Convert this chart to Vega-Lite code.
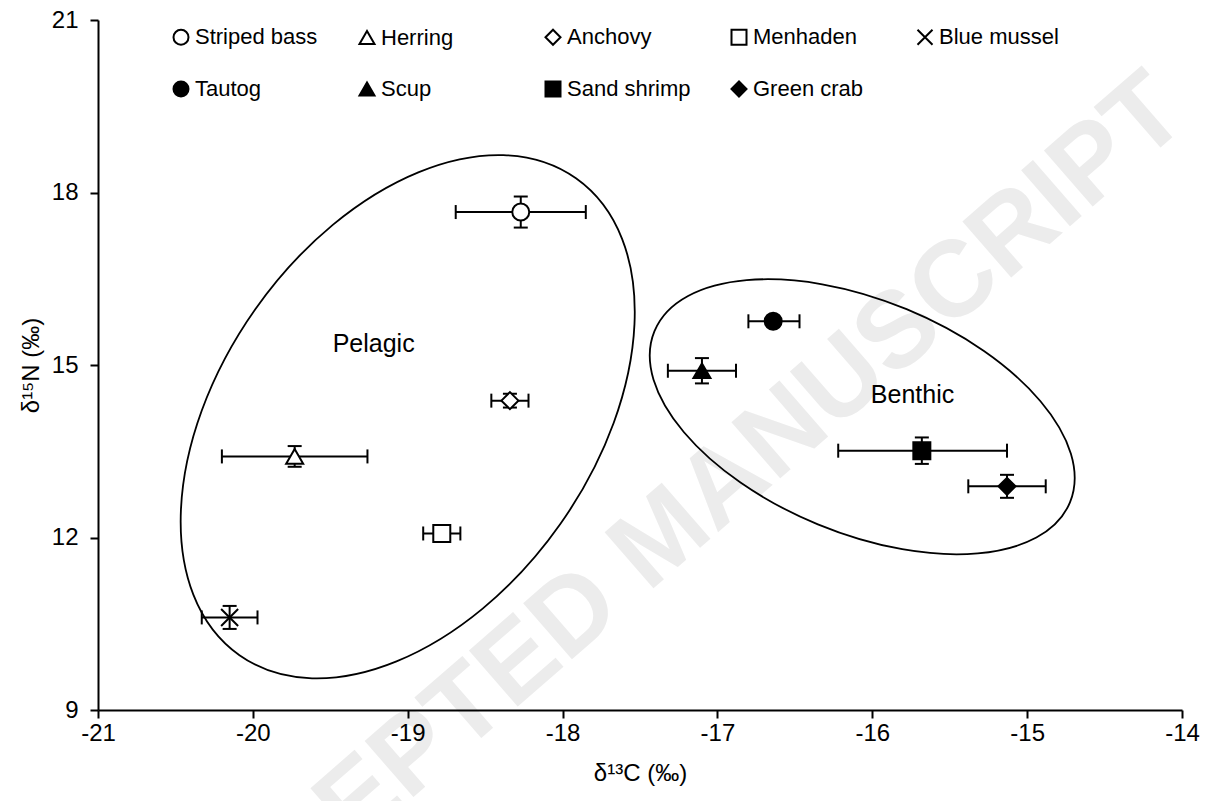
{
  "$schema": "https://vega.github.io/schema/vega-lite/v6.json",
  "width": 1084,
  "height": 690,
  "autosize": {"type": "none"},
  "padding": {"left": 98, "top": 20, "right": 25, "bottom": 91},
  "background": "white",
  "config": {
    "font": "Liberation Sans",
    "view": {"stroke": null},
    "axis": {
      "grid": false,
      "labelFlush": false,
      "labelOverlap": false,
      "domainColor": "black",
      "domainWidth": 2,
      "tickColor": "black",
      "tickWidth": 2,
      "tickSize": 8,
      "labelColor": "black",
      "labelFont": "Liberation Sans",
      "labelFontSize": 24,
      "titleFont": "Liberation Sans",
      "titleFontSize": 24,
      "titleFontWeight": "normal",
      "titleColor": "black"
    },
    "legend": {
      "orient": "none",
      "legendX": 72,
      "legendY": 6,
      "direction": "horizontal",
      "columns": 5,
      "gridAlign": "all",
      "columnPadding": 36,
      "rowPadding": 28,
      "labelFontSize": 22,
      "labelFont": "Liberation Sans",
      "labelColor": "black",
      "symbolSize": 225,
      "symbolStrokeWidth": 2,
      "symbolStrokeColor": "black",
      "symbolOpacity": 1,
      "labelOffset": 3,
      "padding": 0
    }
  },
  "datasets": {
    "species": [
      {"species": "Striped bass", "c13": -18.27, "c13lo": -18.69, "c13hi": -17.85, "n15": 17.66, "n15lo": 17.39, "n15hi": 17.93},
      {"species": "Herring", "c13": -19.73, "c13lo": -20.2, "c13hi": -19.26, "n15": 13.41, "n15lo": 13.23, "n15hi": 13.59},
      {"species": "Anchovy", "c13": -18.34, "c13lo": -18.46, "c13hi": -18.22, "n15": 14.38, "n15lo": 14.26, "n15hi": 14.5},
      {"species": "Menhaden", "c13": -18.78, "c13lo": -18.9, "c13hi": -18.66, "n15": 12.07, "n15lo": 11.99, "n15hi": 12.15},
      {"species": "Blue mussel", "c13": -20.15, "c13lo": -20.33, "c13hi": -19.97, "n15": 10.61, "n15lo": 10.41, "n15hi": 10.81},
      {"species": "Tautog", "c13": -16.64, "c13lo": -16.8, "c13hi": -16.47, "n15": 15.76, "n15lo": 15.68, "n15hi": 15.84},
      {"species": "Scup", "c13": -17.1, "c13lo": -17.32, "c13hi": -16.88, "n15": 14.9, "n15lo": 14.68, "n15hi": 15.12},
      {"species": "Sand shrimp", "c13": -15.68, "c13lo": -16.22, "c13hi": -15.13, "n15": 13.51, "n15lo": 13.28, "n15hi": 13.74},
      {"species": "Green crab", "c13": -15.13, "c13lo": -15.38, "c13hi": -14.88, "n15": 12.89, "n15lo": 12.69, "n15hi": 13.09}
    ],
    "groups": [
      {"group": "Pelagic", "c13": -19.0, "n15": 14.1},
      {"group": "Benthic", "c13": -16.065, "n15": 14.1}
    ],
    "notes": [
      {"label": "Pelagic", "c13": -19.22, "n15": 15.36},
      {"label": "Benthic", "c13": -15.74, "n15": 14.47}
    ],
    "watermark": [
      {"label": "ACCEPTED MANUSCRIPT", "c13": -17.35, "n15": 12.0}
    ]
  },
  "layer": [
    {
      "data": {"name": "watermark"},
      "mark": {"type": "text", "fontSize": 108, "fontWeight": "bold", "angle": -41, "color": "#ececec", "align": "center", "baseline": "middle", "font": "Liberation Sans"},
      "encoding": {
        "x": {"field": "c13", "type": "quantitative", "scale": {"domain": [-21, -14], "nice": false, "zero": false}, "axis": {"zindex": 1, "values": [-21, -20, -19, -18, -17, -16, -15, -14], "labelExpr": "'' + datum.value", "labelPadding": 3, "title": "δ¹³C (‰)", "titlePadding": 16}},
        "y": {"field": "n15", "type": "quantitative", "scale": {"domain": [9, 21], "nice": false, "zero": false}, "axis": {"zindex": 1, "values": [9, 12, 15, 18, 21], "labelPadding": 12, "title": "δ¹⁵N (‰)", "titlePadding": 8}},
        "text": {"field": "label"}
      }
    },
    {
      "data": {"name": "groups"},
      "transform": [{"filter": "datum.group === 'Pelagic'"}],
      "mark": {"type": "point", "shape": "M 1 0 C 1 0.353 0.5523 0.639 0 0.639 C -0.5523 0.639 -1 0.353 -1 0 C -1 -0.353 -0.5523 -0.639 0 -0.639 C 0.5523 -0.639 1 -0.353 1 0 Z", "size": 340823, "angle": -54.8, "filled": false, "stroke": "black", "strokeWidth": 1.8, "opacity": 1},
      "encoding": {
        "x": {"field": "c13", "type": "quantitative", "scale": {"domain": [-21, -14], "nice": false, "zero": false}, "axis": {"zindex": 1, "values": [-21, -20, -19, -18, -17, -16, -15, -14], "labelExpr": "'' + datum.value", "labelPadding": 3, "title": "δ¹³C (‰)", "titlePadding": 16}},
        "y": {"field": "n15", "type": "quantitative", "scale": {"domain": [9, 21], "nice": false, "zero": false}, "axis": {"zindex": 1, "values": [9, 12, 15, 18, 21], "labelPadding": 12, "title": "δ¹⁵N (‰)", "titlePadding": 8}}
      }
    },
    {
      "data": {"name": "groups"},
      "transform": [{"filter": "datum.group === 'Benthic'"}],
      "mark": {"type": "point", "shape": "M 1 0 C 1 0.286 0.5523 0.518 0 0.518 C -0.5523 0.518 -1 0.286 -1 0 C -1 -0.286 -0.5523 -0.518 0 -0.518 C 0.5523 -0.518 1 -0.286 1 0 Z", "size": 201960, "angle": 22.4, "filled": false, "stroke": "black", "strokeWidth": 1.8, "opacity": 1},
      "encoding": {
        "x": {"field": "c13", "type": "quantitative", "scale": {"domain": [-21, -14], "nice": false, "zero": false}, "axis": {"zindex": 1, "values": [-21, -20, -19, -18, -17, -16, -15, -14], "labelExpr": "'' + datum.value", "labelPadding": 3, "title": "δ¹³C (‰)", "titlePadding": 16}},
        "y": {"field": "n15", "type": "quantitative", "scale": {"domain": [9, 21], "nice": false, "zero": false}, "axis": {"zindex": 1, "values": [9, 12, 15, 18, 21], "labelPadding": 12, "title": "δ¹⁵N (‰)", "titlePadding": 8}}
      }
    },
    {
      "data": {"name": "notes"},
      "mark": {"type": "text", "fontSize": 25, "color": "black", "align": "center", "baseline": "middle", "font": "Liberation Sans"},
      "encoding": {
        "x": {"field": "c13", "type": "quantitative", "scale": {"domain": [-21, -14], "nice": false, "zero": false}, "axis": {"zindex": 1, "values": [-21, -20, -19, -18, -17, -16, -15, -14], "labelExpr": "'' + datum.value", "labelPadding": 3, "title": "δ¹³C (‰)", "titlePadding": 16}},
        "y": {"field": "n15", "type": "quantitative", "scale": {"domain": [9, 21], "nice": false, "zero": false}, "axis": {"zindex": 1, "values": [9, 12, 15, 18, 21], "labelPadding": 12, "title": "δ¹⁵N (‰)", "titlePadding": 8}},
        "text": {"field": "label"}
      }
    },
    {
      "data": {"name": "species"},
      "mark": {"type": "rule", "color": "black", "strokeWidth": 2},
      "encoding": {
        "x": {"field": "c13lo", "type": "quantitative", "scale": {"domain": [-21, -14], "nice": false, "zero": false}, "axis": {"zindex": 1, "values": [-21, -20, -19, -18, -17, -16, -15, -14], "labelExpr": "'' + datum.value", "labelPadding": 3, "title": "δ¹³C (‰)", "titlePadding": 16}},
        "x2": {"field": "c13hi"},
        "y": {"field": "n15", "type": "quantitative", "scale": {"domain": [9, 21], "nice": false, "zero": false}, "axis": {"zindex": 1, "values": [9, 12, 15, 18, 21], "labelPadding": 12, "title": "δ¹⁵N (‰)", "titlePadding": 8}}
      }
    },
    {
      "data": {"name": "species"},
      "mark": {"type": "rule", "color": "black", "strokeWidth": 2},
      "encoding": {
        "x": {"field": "c13", "type": "quantitative", "scale": {"domain": [-21, -14], "nice": false, "zero": false}, "axis": {"zindex": 1, "values": [-21, -20, -19, -18, -17, -16, -15, -14], "labelExpr": "'' + datum.value", "labelPadding": 3, "title": "δ¹³C (‰)", "titlePadding": 16}},
        "y": {"field": "n15lo", "type": "quantitative", "scale": {"domain": [9, 21], "nice": false, "zero": false}, "axis": {"zindex": 1, "values": [9, 12, 15, 18, 21], "labelPadding": 12, "title": "δ¹⁵N (‰)", "titlePadding": 8}},
        "y2": {"field": "n15hi"}
      }
    },
    {
      "data": {"name": "species"},
      "mark": {"type": "tick", "orient": "vertical", "size": 14, "thickness": 2, "color": "black", "opacity": 1},
      "encoding": {
        "x": {"field": "c13lo", "type": "quantitative", "scale": {"domain": [-21, -14], "nice": false, "zero": false}, "axis": {"zindex": 1, "values": [-21, -20, -19, -18, -17, -16, -15, -14], "labelExpr": "'' + datum.value", "labelPadding": 3, "title": "δ¹³C (‰)", "titlePadding": 16}},
        "y": {"field": "n15", "type": "quantitative", "scale": {"domain": [9, 21], "nice": false, "zero": false}, "axis": {"zindex": 1, "values": [9, 12, 15, 18, 21], "labelPadding": 12, "title": "δ¹⁵N (‰)", "titlePadding": 8}}
      }
    },
    {
      "data": {"name": "species"},
      "mark": {"type": "tick", "orient": "vertical", "size": 14, "thickness": 2, "color": "black", "opacity": 1},
      "encoding": {
        "x": {"field": "c13hi", "type": "quantitative", "scale": {"domain": [-21, -14], "nice": false, "zero": false}, "axis": {"zindex": 1, "values": [-21, -20, -19, -18, -17, -16, -15, -14], "labelExpr": "'' + datum.value", "labelPadding": 3, "title": "δ¹³C (‰)", "titlePadding": 16}},
        "y": {"field": "n15", "type": "quantitative", "scale": {"domain": [9, 21], "nice": false, "zero": false}, "axis": {"zindex": 1, "values": [9, 12, 15, 18, 21], "labelPadding": 12, "title": "δ¹⁵N (‰)", "titlePadding": 8}}
      }
    },
    {
      "data": {"name": "species"},
      "mark": {"type": "tick", "orient": "horizontal", "size": 14, "thickness": 2, "color": "black", "opacity": 1},
      "encoding": {
        "x": {"field": "c13", "type": "quantitative", "scale": {"domain": [-21, -14], "nice": false, "zero": false}, "axis": {"zindex": 1, "values": [-21, -20, -19, -18, -17, -16, -15, -14], "labelExpr": "'' + datum.value", "labelPadding": 3, "title": "δ¹³C (‰)", "titlePadding": 16}},
        "y": {"field": "n15lo", "type": "quantitative", "scale": {"domain": [9, 21], "nice": false, "zero": false}, "axis": {"zindex": 1, "values": [9, 12, 15, 18, 21], "labelPadding": 12, "title": "δ¹⁵N (‰)", "titlePadding": 8}}
      }
    },
    {
      "data": {"name": "species"},
      "mark": {"type": "tick", "orient": "horizontal", "size": 14, "thickness": 2, "color": "black", "opacity": 1},
      "encoding": {
        "x": {"field": "c13", "type": "quantitative", "scale": {"domain": [-21, -14], "nice": false, "zero": false}, "axis": {"zindex": 1, "values": [-21, -20, -19, -18, -17, -16, -15, -14], "labelExpr": "'' + datum.value", "labelPadding": 3, "title": "δ¹³C (‰)", "titlePadding": 16}},
        "y": {"field": "n15hi", "type": "quantitative", "scale": {"domain": [9, 21], "nice": false, "zero": false}, "axis": {"zindex": 1, "values": [9, 12, 15, 18, 21], "labelPadding": 12, "title": "δ¹⁵N (‰)", "titlePadding": 8}}
      }
    },
    {
      "data": {"name": "species"},
      "mark": {"type": "point", "filled": true, "size": 289, "stroke": "black", "strokeWidth": 2, "opacity": 1},
      "encoding": {
        "x": {"field": "c13", "type": "quantitative", "scale": {"domain": [-21, -14], "nice": false, "zero": false}, "axis": {"zindex": 1, "values": [-21, -20, -19, -18, -17, -16, -15, -14], "labelExpr": "'' + datum.value", "labelPadding": 3, "title": "δ¹³C (‰)", "titlePadding": 16}},
        "y": {"field": "n15", "type": "quantitative", "scale": {"domain": [9, 21], "nice": false, "zero": false}, "axis": {"zindex": 1, "values": [9, 12, 15, 18, 21], "labelPadding": 12, "title": "δ¹⁵N (‰)", "titlePadding": 8}},
        "shape": {
          "field": "species",
          "type": "nominal",
          "scale": {
            "domain": ["Striped bass", "Herring", "Anchovy", "Menhaden", "Blue mussel", "Tautog", "Scup", "Sand shrimp", "Green crab"],
            "range": ["circle", "triangle-up", "diamond", "square", "M -1 -1 L 1 1 M -1 1 L 1 -1", "circle", "triangle-up", "square", "diamond"]
          },
          "legend": {"title": null, "encode": {"symbols": {"update": {"stroke": {"value": "black"}, "strokeWidth": {"value": 2}, "opacity": {"value": 1}}}}}
        },
        "fill": {
          "field": "species",
          "type": "nominal",
          "scale": {
            "domain": ["Striped bass", "Herring", "Anchovy", "Menhaden", "Blue mussel", "Tautog", "Scup", "Sand shrimp", "Green crab"],
            "range": ["white", "white", "white", "white", "white", "black", "black", "black", "black"]
          },
          "legend": {"title": null, "encode": {"symbols": {"update": {"stroke": {"value": "black"}, "strokeWidth": {"value": 2}, "opacity": {"value": 1}}}}}
        }
      }
    }
  ]
}
